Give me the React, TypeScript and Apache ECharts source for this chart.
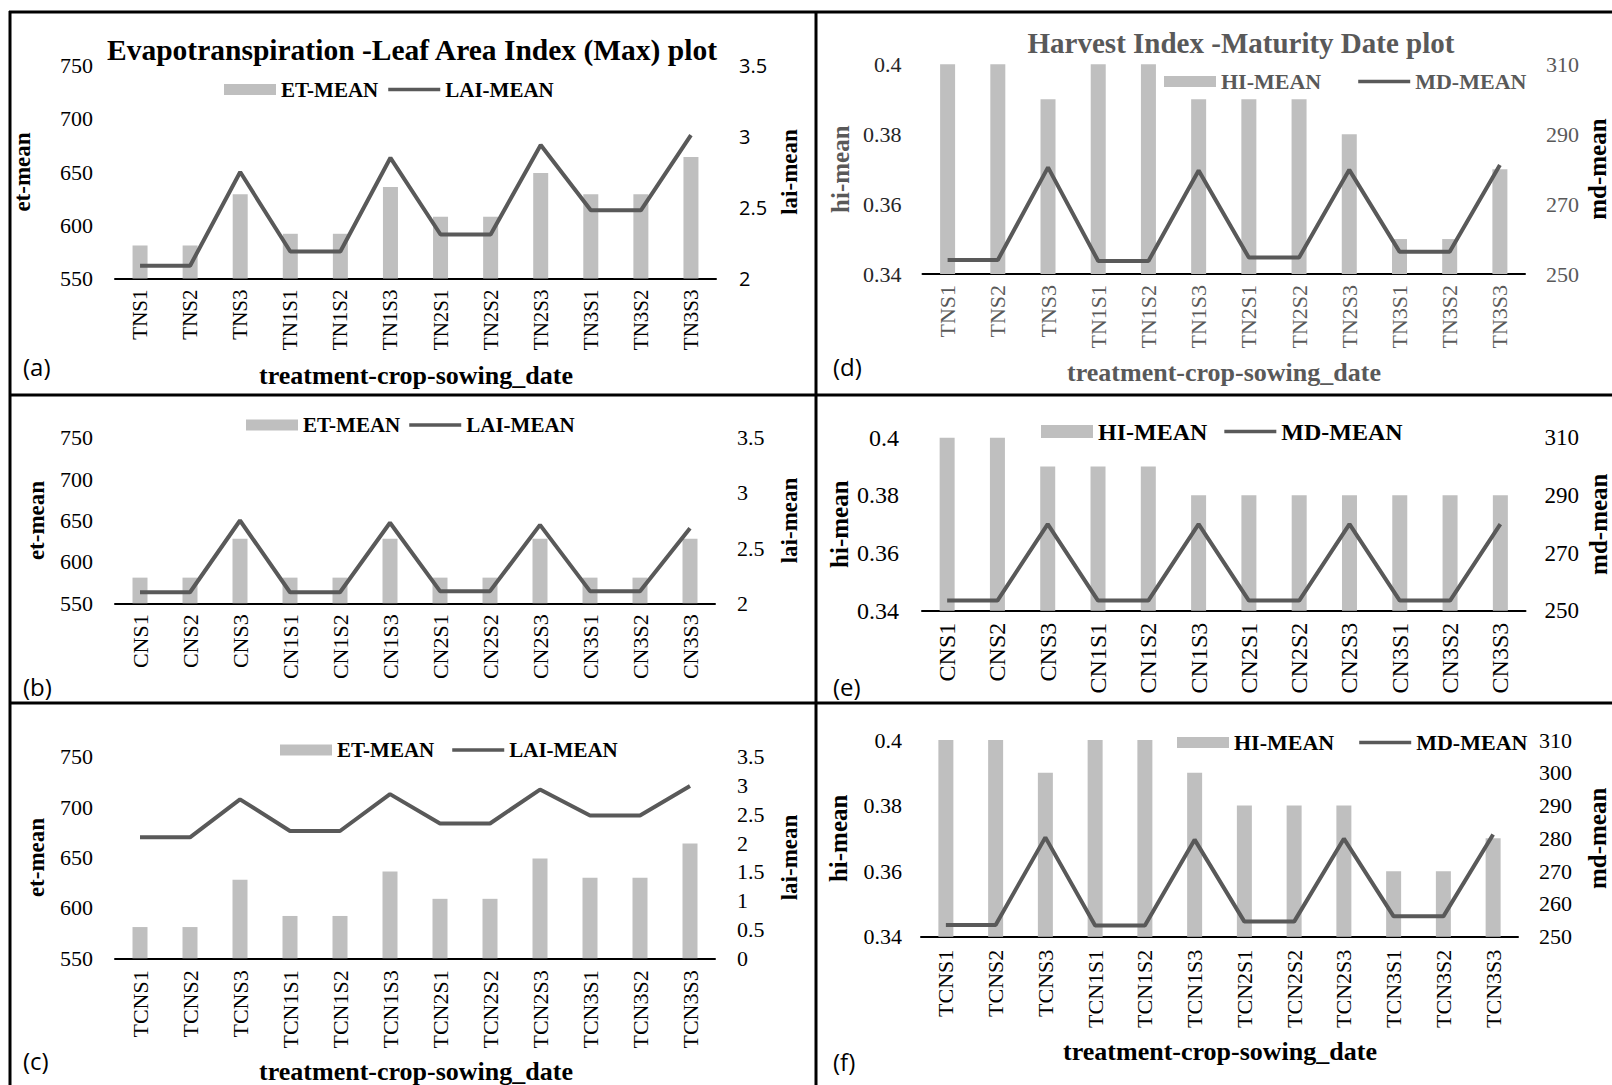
import React, { useEffect, useRef } from "react";
import * as echarts from "echarts";

const CAT_T = ["TNS1", "TNS2", "TNS3", "TN1S1", "TN1S2", "TN1S3", "TN2S1", "TN2S2", "TN2S3", "TN3S1", "TN3S2", "TN3S3"];
const CAT_C = ["CNS1", "CNS2", "CNS3", "CN1S1", "CN1S2", "CN1S3", "CN2S1", "CN2S2", "CN2S3", "CN3S1", "CN3S2", "CN3S3"];
const CAT_TC = ["TCNS1", "TCNS2", "TCNS3", "TCN1S1", "TCN1S2", "TCN1S3", "TCN2S1", "TCN2S2", "TCN2S3", "TCN3S1", "TCN3S2", "TCN3S3"];

const ET_A = [581, 581, 629, 592, 592, 636, 608, 608, 649, 629, 629, 664];
const LAI_A = [2.09, 2.09, 2.75, 2.19, 2.19, 2.85, 2.31, 2.31, 2.94, 2.48, 2.48, 3.01];
const ET_B = [581, 581, 628, 581, 581, 628, 581, 581, 628, 581, 581, 628];
const LAI_B = [2.1, 2.1, 2.75, 2.1, 2.1, 2.73, 2.11, 2.11, 2.71, 2.11, 2.11, 2.68];
const ET_C = [581, 581, 628, 592, 592, 636, 609, 609, 649, 630, 630, 664];
const LAI_C = [2.1, 2.1, 2.76, 2.21, 2.21, 2.85, 2.34, 2.34, 2.93, 2.48, 2.48, 2.99];

const HI_D = [0.4, 0.4, 0.39, 0.4, 0.4, 0.39, 0.39, 0.39, 0.38, 0.35, 0.35, 0.37];
const MD_D = [254, 254, 280.5, 253.7, 253.7, 279.6, 254.7, 254.7, 279.8, 256.4, 256.4, 281.2];
const HI_E = [0.4, 0.4, 0.39, 0.39, 0.39, 0.38, 0.38, 0.38, 0.38, 0.38, 0.38, 0.38];
const MD_E = [253.5, 253.5, 280, 253.5, 253.5, 280, 253.5, 253.5, 280, 253.5, 253.5, 280];
const HI_F = [0.4, 0.4, 0.39, 0.4, 0.4, 0.39, 0.38, 0.38, 0.38, 0.36, 0.36, 0.37];
const MD_F = [253.6, 253.6, 280.3, 253.4, 253.4, 279.6, 254.6, 254.6, 279.9, 256.2, 256.2, 281.2];

const SERIF = "Liberation Serif";
const SANS = "Open Sans";
const BAR = "#bfbfbf";
const LINE = "#595959";
const GREY = "#595959";
const LINE_ICON = "path://M0,0 H52 V3.6 H0 Z";

type Panel = {
  cats: string[];
  bar: number[];
  line: number[];
  barName: string;
  lineName: string;
  grid: { left: number; top: number; width: number; height: number };
  left: any;
  right: any;
  catSize: number;
  catColor: string;
  catMargin: number;
  legend: { left: number; top: number; gap: number; size: number; color: string; itemHeight: number };
};

const PANELS: Panel[] = [
  {
    cats: CAT_T, bar: ET_A, line: LAI_A, barName: "ET-MEAN", lineName: "LAI-MEAN",
    grid: { left: 115, top: 65.5, width: 601, height: 213 },
    left: { min: 550, max: 750, interval: 50, name: "et-mean", gap: 81, margin: 22, size: 22, color: "#000", nameColor: "#000", nameSize: 23 },
    right: { min: 2, max: 3.5, interval: 0.5, name: "lai-mean", gap: 62, margin: 23, size: 20, color: "#000", nameColor: "#000", nameSize: 23, family: SANS },
    catSize: 21, catColor: "#000", catMargin: 11,
    legend: { left: 224, top: 79, gap: 10, size: 21, color: "#000", itemHeight: 11 },
  },
  {
    cats: CAT_C, bar: ET_B, line: LAI_B, barName: "ET-MEAN", lineName: "LAI-MEAN",
    grid: { left: 115, top: 437.7, width: 600, height: 165.6 },
    left: { min: 550, max: 750, interval: 50, name: "et-mean", gap: 67, margin: 22, size: 22, color: "#000", nameColor: "#000", nameSize: 23 },
    right: { min: 2, max: 3.5, interval: 0.5, name: "lai-mean", gap: 63, margin: 22, size: 22, color: "#000", nameColor: "#000", nameSize: 23, family: SERIF },
    catSize: 22, catColor: "#000", catMargin: 11,
    legend: { left: 246, top: 414.5, gap: 9, size: 21, color: "#000", itemHeight: 11 },
  },
  {
    cats: CAT_TC, bar: ET_C, line: LAI_C, barName: "ET-MEAN", lineName: "LAI-MEAN",
    grid: { left: 115, top: 756.7, width: 600, height: 201.6 },
    left: { min: 550, max: 750, interval: 50, name: "et-mean", gap: 67, margin: 22, size: 22, color: "#000", nameColor: "#000", nameSize: 23 },
    right: { min: 0, max: 3.5, interval: 0.5, name: "lai-mean", gap: 63, margin: 22, size: 22, color: "#000", nameColor: "#000", nameSize: 23, family: SERIF },
    catSize: 22, catColor: "#000", catMargin: 12,
    legend: { left: 280, top: 739.5, gap: 18, size: 21, color: "#000", itemHeight: 11 },
  },
  {
    cats: CAT_T, bar: HI_D, line: MD_D, barName: "HI-MEAN", lineName: "MD-MEAN",
    grid: { left: 922.5, top: 64.3, width: 602.5, height: 209.7 },
    left: { min: 0.34, max: 0.4, interval: 0.02, name: "hi-mean", gap: 70, margin: 21, size: 22, color: "#262626", nameColor: GREY, nameSize: 25 },
    right: { min: 250, max: 310, interval: 20, name: "md-mean", gap: 60, margin: 21, size: 22, color: GREY, nameColor: "#000", nameSize: 25, family: SERIF },
    catSize: 22, catColor: GREY, catMargin: 11,
    legend: { left: 1164, top: 70.5, gap: 37, size: 22, color: GREY, itemHeight: 11 },
  },
  {
    cats: CAT_C, bar: HI_E, line: MD_E, barName: "HI-MEAN", lineName: "MD-MEAN",
    grid: { left: 922, top: 437.7, width: 603.5, height: 173 },
    left: { min: 0.34, max: 0.4, interval: 0.02, name: "hi-mean", gap: 70, margin: 23, size: 24, color: "#000", nameColor: "#000", nameSize: 25 },
    right: { min: 250, max: 310, interval: 20, name: "md-mean", gap: 60, margin: 19, size: 23, color: "#000", nameColor: "#000", nameSize: 25, family: SERIF },
    catSize: 24, catColor: "#000", catMargin: 12,
    legend: { left: 1041, top: 419.5, gap: 17, size: 24, color: "#000", itemHeight: 13 },
  },
  {
    cats: CAT_TC, bar: HI_F, line: MD_F, barName: "HI-MEAN", lineName: "MD-MEAN",
    grid: { left: 921, top: 740, width: 597, height: 196.7 },
    left: { min: 0.34, max: 0.4, interval: 0.02, name: "hi-mean", gap: 70, margin: 19, size: 22, color: "#000", nameColor: "#000", nameSize: 25 },
    right: { min: 250, max: 310, interval: 10, name: "md-mean", gap: 67, margin: 21, size: 22, color: "#000", nameColor: "#000", nameSize: 25, family: SERIF },
    catSize: 22, catColor: "#000", catMargin: 13,
    legend: { left: 1177, top: 731.5, gap: 25, size: 22, color: "#000", itemHeight: 11 },
  },
];

const TEXTS = [
  { text: "Evapotranspiration -Leaf Area Index (Max) plot", x: 412, y: 50, size: 29.5, bold: true, color: "#000", family: SERIF, left: false },
  { text: "Harvest Index -Maturity Date plot", x: 1241, y: 43, size: 29, bold: true, color: GREY, family: SERIF, left: false },
  { text: "treatment-crop-sowing_date", x: 416, y: 375, size: 26, bold: true, color: "#000", family: SERIF, left: false },
  { text: "treatment-crop-sowing_date", x: 416, y: 1071, size: 26, bold: true, color: "#000", family: SERIF, left: false },
  { text: "treatment-crop-sowing_date", x: 1224, y: 372, size: 26, bold: true, color: GREY, family: SERIF, left: false },
  { text: "treatment-crop-sowing_date", x: 1220, y: 1051, size: 26, bold: true, color: "#000", family: SERIF, left: false },
  { text: "(a)", x: 23, y: 366, size: 24, bold: false, color: "#000", family: SANS, left: true },
  { text: "(b)", x: 23, y: 686, size: 24, bold: false, color: "#000", family: SANS, left: true },
  { text: "(c)", x: 23, y: 1060, size: 24, bold: false, color: "#000", family: SANS, left: true },
  { text: "(d)", x: 833, y: 366, size: 24, bold: false, color: "#000", family: SANS, left: true },
  { text: "(e)", x: 833, y: 686, size: 24, bold: false, color: "#000", family: SANS, left: true },
  { text: "(f)", x: 833, y: 1061, size: 24, bold: false, color: "#000", family: SANS, left: true },
];

function buildOption() {
  const grid: any[] = [];
  const xAxis: any[] = [];
  const yAxis: any[] = [];
  const series: any[] = [];
  const legend: any[] = [];

  PANELS.forEach((p, i) => {
    grid.push({ ...p.grid, containLabel: false, outerBoundsMode: "none" });
    xAxis.push({
      type: "category",
      gridIndex: i,
      data: p.cats,
      boundaryGap: true,
      axisLine: { show: true, lineStyle: { color: "#000", width: 2 } },
      axisTick: { show: false },
      splitLine: { show: false },
      axisLabel: {
        rotate: 90,
        interval: 0,
        margin: p.catMargin,
        fontFamily: SERIF,
        fontSize: p.catSize,
        color: p.catColor,
      },
    });
    const mkY = (a: any, position: string, family: string) => ({
      type: "value",
      gridIndex: i,
      position,
      min: a.min,
      max: a.max,
      interval: a.interval,
      axisLine: { show: false },
      axisTick: { show: false },
      splitLine: { show: false },
      axisLabel: { margin: a.margin, fontFamily: family, fontSize: a.size, color: a.color },
      name: a.name,
      nameLocation: "middle",
      nameRotate: 90,
      nameGap: a.gap,
      nameTextStyle: { fontFamily: SERIF, fontWeight: "bold", fontSize: a.nameSize, color: a.nameColor },
    });
    yAxis.push(mkY(p.left, "left", SERIF));
    yAxis.push(mkY(p.right, "right", p.right.family));

    series.push({
      type: "bar",
      name: p.barName,
      xAxisIndex: i,
      yAxisIndex: 2 * i,
      data: p.bar,
      barWidth: 15,
      itemStyle: { color: BAR },
    });
    series.push({
      type: "line",
      name: p.lineName,
      xAxisIndex: i,
      yAxisIndex: 2 * i + 1,
      data: p.line,
      symbol: "none",
      lineStyle: { color: LINE, width: 4 },
      itemStyle: { color: LINE },
    });

    legend.push({
      left: p.legend.left,
      top: p.legend.top,
      padding: 0,
      itemGap: p.legend.gap,
      itemWidth: 52,
      itemHeight: p.legend.itemHeight,
      selectedMode: false,
      data: [
        { name: p.barName, icon: "rect", itemStyle: { color: BAR } },
        { name: p.lineName, icon: LINE_ICON, itemStyle: { color: LINE, borderWidth: 0 } },
      ],
      textStyle: { fontFamily: SERIF, fontWeight: "bold", fontSize: p.legend.size, color: p.legend.color },
    });
  });

  const graphic: any[] = [];
  const ls = { stroke: "#000", lineWidth: 3 };
  graphic.push({ type: "line", shape: { x1: 9, y1: 12, x2: 1612, y2: 12 }, style: ls, silent: true });
  graphic.push({ type: "line", shape: { x1: 10, y1: 11, x2: 10, y2: 1085 }, style: ls, silent: true });
  graphic.push({ type: "line", shape: { x1: 816, y1: 11, x2: 816, y2: 1085 }, style: ls, silent: true });
  graphic.push({ type: "line", shape: { x1: 9, y1: 395, x2: 1612, y2: 395 }, style: ls, silent: true });
  graphic.push({ type: "line", shape: { x1: 9, y1: 703, x2: 1612, y2: 703 }, style: ls, silent: true });

  TEXTS.forEach((t) => {
    graphic.push({
      type: "text",
      x: t.x,
      y: t.y,
      silent: true,
      style: {
        text: t.text,
        fill: t.color,
        fontFamily: t.family,
        fontSize: t.size,
        fontWeight: t.bold ? "bold" : "normal",
        align: t.left ? "left" : "center",
        verticalAlign: "middle",
        textAlign: t.left ? "left" : "center",
        textVerticalAlign: "middle",
      },
    });
  });

  return {
    animation: false,
    backgroundColor: "#ffffff",
    textStyle: { fontFamily: SERIF },
    grid,
    xAxis,
    yAxis,
    series,
    legend,
    graphic,
  };
}

export default function App() {
  const ref = useRef<HTMLDivElement>(null);
  useEffect(() => {
    if (!ref.current) return;
    const chart = echarts.init(ref.current, undefined, { renderer: "svg" });
    chart.setOption(buildOption() as any);
    return () => chart.dispose();
  }, []);
  return (
    <div
      ref={ref}
      style={{ position: "absolute", left: 0, top: 0, width: 1612, height: 1085, background: "#fff" }}
    />
  );
}
